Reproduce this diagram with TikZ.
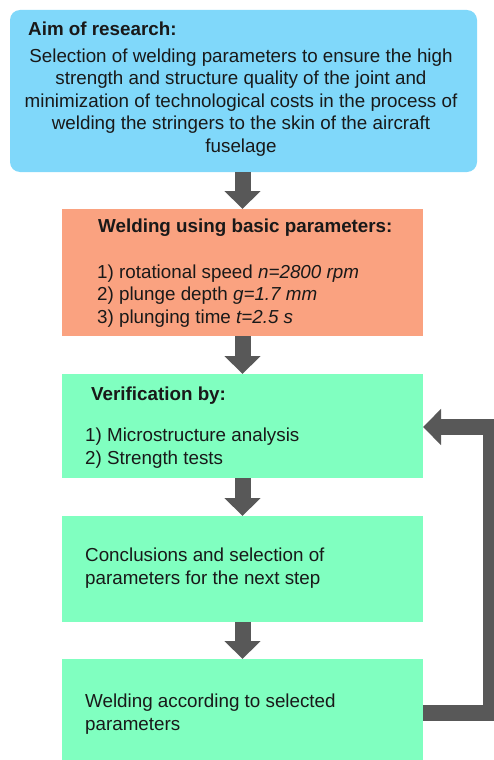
\documentclass[tikz,border=0pt]{standalone}
\usepackage{fontspec}
\setmainfont{Liberation Sans}
\usetikzlibrary{arrows.meta}

\definecolor{aimblue}{RGB}{128,216,250}
\definecolor{basicorange}{RGB}{250,162,128}
\definecolor{stepgreen}{RGB}{128,255,192}
\definecolor{flowgray}{RGB}{88,88,88}
\definecolor{inkdark}{RGB}{25,25,25}

\tikzset{
    box/.style={inner sep=0pt, outer sep=0pt},
    txt/.style={inner sep=0pt, anchor=base west, align=left, text=inkdark,
        font=\fontsize{18.8}{22.5}\selectfont},
    hdr/.style={txt, font=\fontsize{18.8}{22.5}\selectfont\bfseries},
    flow/.style={draw=flowgray, line width=16pt,
        -{Triangle[width=35pt,length=18pt]}}
}

\begin{document}
\begin{tikzpicture}[x=1pt, y=-1pt]
    \useasboundingbox (0,0) rectangle (494,760);

    % aim
    \node[box, fill=aimblue, rounded corners=10pt, minimum width=467pt, minimum height=162pt] (aim) at (243.5,91) {};
    \node[hdr] (aimhead) at (28,36) {Aim of research:};
    \node[txt, anchor=base, align=center] (aimtext) at (241,152) {Selection of welding parameters to ensure the high\\
        strength and structure quality of the joint and\\
        minimization of technological costs in the process of\\
        welding the stringers to the skin of the aircraft\\
        fuselage};

    % basic parameters
    \node[box, fill=basicorange, minimum width=361pt, minimum height=127pt] (basic) at (242.5,272.5) {};
    \node[hdr] (basichead) at (98,232) {Welding using basic parameters:};
    \node[txt] (basictext) at (97,323) {1) rotational speed \textit{n=2800 rpm}\\
        2) plunge depth \textit{g=1.7 mm}\\
        3) plunging time \textit{t=2.5 s}};

    % verification
    \node[box, fill=stepgreen, minimum width=361pt, minimum height=104pt] (verif) at (242.5,426) {};
    \node[hdr] (verifhead) at (91,400) {Verification by:};
    \node[txt] (veriftext) at (85,464) {1) Microstructure analysis\\
        2) Strength tests};

    % conclusions
    \node[box, fill=stepgreen, minimum width=361pt, minimum height=106pt] (concl) at (242.5,569) {};
    \node[txt] (concltext) at (85,584) {Conclusions and selection of\\
        parameters for the next step};

    % welding with selected parameters
    \node[box, fill=stepgreen, minimum width=361pt, minimum height=116pt] (weld) at (242.5,717) {};
    \node[txt] (weldtext) at (85,730) {Welding according to selected\\
        parameters};

    % arrows
    \draw[flow] (aim.south -| basic.north) -- (basic.north);
    \draw[flow] (basic.south) -- (verif.north);
    \draw[flow] (verif.south) -- (concl.north);
    \draw[flow] (concl.south) -- (weld.north);

    % feedback
    \coordinate (loop) at (491,427);
    \draw[flow] (weld.east |- 0,713) -- (loop |- 0,713) -- (loop) -- (verif.east |- loop);
\end{tikzpicture}
\end{document}
